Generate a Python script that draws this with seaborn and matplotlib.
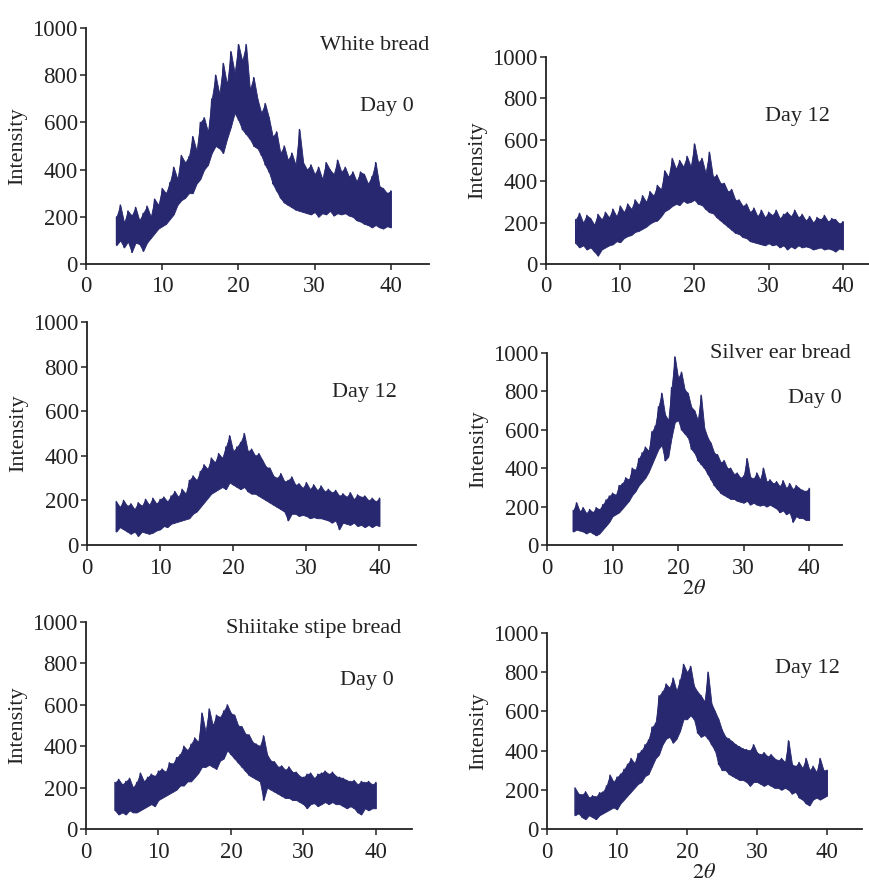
import numpy as np
import pandas as pd
import matplotlib
matplotlib.use("Agg")
import matplotlib.pyplot as plt
import seaborn as sns

# 2theta sampling grid (deg), 0.5 step
two_theta = np.arange(4.0, 40.01, 0.5)

# upper / lower edge of the noisy XRD trace
white_d0_hi = [200, 250, 175, 225, 205, 240, 185, 215, 245, 200,
               275, 250, 320, 300, 345, 410, 360, 460, 430, 455,
               540, 480, 600, 620, 560, 700, 800, 720, 850, 760,
               900, 810, 930, 860, 930, 740, 790, 700, 640, 680,
               620, 540, 560, 470, 500, 440, 470, 420, 570, 430,
               400, 420, 380, 410, 360, 430, 400, 380, 440, 390,
               410, 370, 390, 350, 390, 380, 340, 370, 430, 330,
               320, 300, 310]
white_d0_lo = [80, 100, 70, 95, 50, 90, 85, 55, 90, 110,
               130, 150, 160, 170, 190, 210, 250, 270, 280, 300,
               300, 340, 360, 400, 420, 470, 500, 490, 470, 530,
               580, 640, 610, 570, 550, 530, 500, 490, 460, 420,
               390, 340, 310, 280, 260, 250, 240, 230, 225, 220,
               215, 210, 220, 200, 215, 210, 225, 205, 215, 210,
               215, 205, 200, 185, 180, 170, 165, 155, 165, 155,
               150, 160, 155]

white_d12_hi = [215, 245, 200, 235, 220, 190, 240, 215, 250, 225,
                265, 230, 280, 250, 290, 265, 310, 285, 330, 300,
                350, 330, 380, 360, 450, 420, 510, 460, 500, 470,
                520, 470, 580, 490, 510, 440, 540, 420, 430, 390,
                390, 350, 360, 310, 310, 280, 290, 250, 270, 230,
                260, 225, 250, 235, 260, 220, 240, 250, 230, 260,
                225, 240, 210, 230, 200, 225, 215, 235, 205, 220,
                215, 195, 205]
white_d12_lo = [100, 80, 90, 70, 80, 60, 40, 70, 80, 90,
                95, 110, 105, 125, 135, 140, 155, 160, 170, 180,
                195, 205, 210, 230, 255, 265, 280, 290, 285, 305,
                295, 300, 310, 290, 285, 265, 250, 245, 225, 210,
                195, 180, 165, 150, 145, 130, 125, 110, 105, 100,
                95, 90, 100, 90, 95, 80, 90, 70, 85, 75,
                90, 80, 85, 80, 70, 75, 80, 70, 75, 70,
                60, 75, 70]

mid_d12_hi = [195, 170, 200, 175, 185, 160, 190, 175, 205, 180,
              210, 185, 205, 215, 195, 220, 240, 215, 250, 230,
              290, 310, 290, 330, 360, 340, 390, 370, 410, 390,
              440, 490, 420, 440, 460, 500, 420, 430, 400, 410,
              380, 350, 345, 310, 300, 320, 285, 290, 305, 270,
              275, 255, 280, 250, 270, 245, 265, 240, 250, 235,
              245, 220, 230, 215, 235, 205, 225, 215, 220, 200,
              210, 195, 210]
mid_d12_lo = [60, 80, 70, 60, 50, 60, 40, 60, 55, 50,
              55, 65, 70, 85, 80, 95, 100, 105, 110, 115,
              120, 140, 150, 170, 190, 210, 230, 240, 250, 260,
              250, 280, 270, 260, 250, 260, 240, 230, 230, 220,
              210, 200, 190, 180, 170, 160, 150, 110, 140, 140,
              130, 135, 130, 120, 125, 120, 120, 115, 110, 100,
              110, 70, 100, 95, 90, 100, 85, 90, 80, 90,
              80, 90, 85]

silver_d0_hi = [180, 220, 175, 195, 165, 185, 170, 195, 185, 210,
                235, 255, 270, 260, 310, 320, 350, 340, 400, 390,
                450, 480, 510, 490, 590, 620, 720, 790, 680, 650,
                820, 980, 870, 900, 810, 790, 720, 700, 650, 780,
                610, 560, 530, 480, 470, 430, 440, 400, 400, 370,
                375, 350, 360, 450, 355, 345, 375, 340, 400, 330,
                340, 320, 330, 305, 335, 295, 320, 290, 310, 295,
                285, 280, 295]
silver_d0_lo = [70, 80, 75, 70, 60, 70, 60, 50, 60, 80,
                100, 120, 150, 160, 170, 190, 210, 230, 260, 280,
                310, 330, 350, 380, 420, 460, 500, 520, 440, 460,
                560, 640, 650, 600, 580, 560, 500, 480, 440, 420,
                400, 370, 340, 310, 290, 270, 260, 250, 240, 240,
                230, 225, 220, 230, 210, 220, 210, 205, 210, 200,
                210, 200, 190, 170, 180, 160, 170, 120, 150, 140,
                140, 130, 130]

shiitake_d0_hi = [225, 240, 215, 230, 245, 200, 225, 270, 230, 250,
                  265, 255, 280, 290, 275, 320, 315, 345, 360, 400,
                  380, 410, 440, 420, 560, 470, 580, 500, 550, 540,
                  570, 600, 560, 550, 500, 495, 460, 455, 420, 410,
                  400, 450, 360, 330, 325, 300, 305, 285, 300, 275,
                  275, 255, 250, 265, 270, 245, 265, 270, 280, 265,
                  275, 255, 250, 245, 235, 230, 235, 215, 230, 225,
                  230, 215, 225]
shiitake_d0_lo = [90, 70, 80, 70, 90, 80, 80, 90, 100, 110,
                  120, 110, 140, 150, 160, 170, 180, 190, 210, 210,
                  230, 230, 250, 270, 300, 300, 310, 300, 290, 330,
                  340, 380, 360, 340, 320, 300, 280, 260, 250, 240,
                  230, 140, 200, 190, 180, 170, 160, 150, 150, 140,
                  140, 130, 120, 100, 120, 125, 110, 120, 130, 120,
                  130, 120, 120, 110, 100, 110, 100, 80, 70, 100,
                  90, 100, 100]

shiitake_d12_hi = [210, 180, 175, 190, 160, 170, 165, 185, 190, 220,
                   275, 240, 265, 280, 305, 330, 360, 335, 385, 400,
                   430, 455, 520, 540, 680, 700, 740, 720, 770, 705,
                   760, 840, 800, 830, 730, 700, 680, 650, 800, 640,
                   600, 560, 505, 470, 460, 445, 430, 420, 410, 405,
                   400, 430, 390, 380, 390, 370, 380, 360, 350, 360,
                   340, 450, 330, 320, 340, 310, 360, 300, 320, 290,
                   360, 300, 300]
shiitake_d12_lo = [70, 80, 60, 50, 70, 60, 50, 70, 80, 90,
                   100, 110, 100, 130, 150, 170, 190, 210, 230, 240,
                   270, 280, 320, 360, 380, 430, 460, 470, 440, 460,
                   500, 560, 560, 580, 560, 490, 470, 480, 460, 430,
                   400, 330, 300, 300, 280, 270, 260, 250, 250, 240,
                   220, 240, 240, 230, 220, 230, 220, 210, 210, 200,
                   210, 200, 180, 190, 160, 150, 130, 120, 150, 160,
                   150, 160, 170]

sns.set_style("ticks")
plt.rcParams["font.family"] = ["Liberation Serif", "DejaVu Serif"]
plt.rcParams["mathtext.fontset"] = "stix"

W, H = 869, 882
fig = plt.figure(figsize=(W / 100, H / 100), dpi=100)
line_col = "#27286f"


def panel(px, hi, lo, xlabel=False):
    # px = (left, top, right, bottom) in pixels
    l, t, r, b = px
    ax = fig.add_axes([l / W, 1 - b / H, (r - l) / W, (b - t) / H])
    ax.fill_between(two_theta, lo, hi, color=line_col, lw=0.6)
    df = pd.DataFrame({
        "2theta": np.repeat(two_theta, 2),
        "Intensity": np.column_stack([hi, lo]).ravel(),
    })
    sns.lineplot(data=df, x="2theta", y="Intensity", estimator=None,
                 sort=False, color=line_col, lw=1.0, ax=ax)
    ax.set_xlim(0, 45)
    ax.set_ylim(0, 1000)
    ax.set_xticks([0, 10, 20, 30, 40])
    ax.set_yticks([0, 200, 400, 600, 800, 1000])
    ax.tick_params(direction="out", length=4, width=1.1, labelsize=16.5,
                   colors="#222222", pad=2)
    ax.tick_params(axis="x", pad=5)
    for s in ["top", "right"]:
        ax.spines[s].set_visible(False)
    for s in ["left", "bottom"]:
        ax.spines[s].set_linewidth(1.3)
        ax.spines[s].set_color("#222222")
    ax.set_ylabel("Intensity", fontsize=16, color="#222222", labelpad=4)
    if xlabel:
        ax.set_xlabel(r"$2\theta$", fontsize=16, color="#222222", labelpad=1)
    else:
        ax.set_xlabel("")
    return ax


panel((86, 28, 429, 264), white_d0_hi, white_d0_lo)
panel((546, 57, 880, 264), white_d12_hi, white_d12_lo)
panel((87, 322, 416, 545), mid_d12_hi, mid_d12_lo)
panel((547, 353, 842, 545), silver_d0_hi, silver_d0_lo, xlabel=True)
panel((86, 622, 412, 829), shiitake_d0_hi, shiitake_d0_lo)
panel((547, 633, 862, 829), shiitake_d12_hi, shiitake_d12_lo, xlabel=True)


def note(x, y, s):
    fig.text(x / W, 1 - y / H, s, ha="center", va="center",
             fontsize=16, color="#222222")


note(375, 45, "White bread")
note(387, 106, "Day 0")
note(797, 116, "Day 12")
note(364, 393, "Day 12")
note(780, 353, "Silver ear bread")
note(815, 399, "Day 0")
note(314, 629, "Shiitake stipe bread")
note(367, 681, "Day 0")
note(807, 669, "Day 12")

fig.savefig("out.png", dpi=100)
